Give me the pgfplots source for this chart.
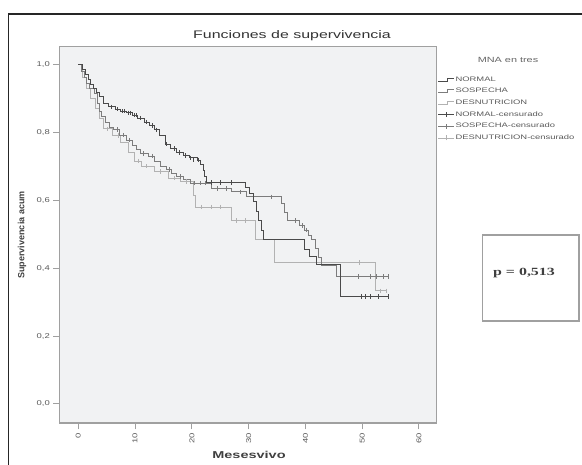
\documentclass[border=0pt]{standalone}
\usepackage{pgfplots}
\pgfplotsset{compat=1.18}
\usepackage{fontspec}
\setmainfont{Liberation Sans}
\newfontfamily\wsans[FakeStretch=1.45]{Liberation Sans}
\newfontfamily\tsans[FakeStretch=1.35]{Liberation Sans}
\newfontfamily\serifp[FakeStretch=1.45]{Liberation Serif}
\definecolor{cN}{HTML}{4A4A4A}
\definecolor{cS}{HTML}{7C7C7C}
\definecolor{cD}{HTML}{B2B2B2}
\definecolor{bgplot}{HTML}{F1F2F3}
\definecolor{axc}{HTML}{A0A0A0}
\begin{document}
\begin{tikzpicture}[x=1pt,y=1pt]
\useasboundingbox (0,0) rectangle (582,464);
\draw[line width=1.2pt, color=black!85] (8.3,-5) -- (8.3,450) -- (590,450);
\begin{axis}[
  at={(59.3pt,40.7pt)}, anchor=south west,
  scale only axis, width=377.2pt, height=376.6pt,
  xmin=-3.35, xmax=63.1, ymin=-0.057, ymax=1.052,
  axis background/.style={fill=bgplot},
  axis line style={axc, line width=1.6pt},
  xtick={0,10,20,30,40,50,60},
  ytick={0,0.2,0.4,0.6,0.8,1.0},
  yticklabels={{0,0},{0,2},{0,4},{0,6},{0,8},{1,0}},
  tick align=outside, tick pos=left, major tick length=6pt,
  tick style={axc, line width=1pt},
  ticklabel style={font=\tsans\fontsize{7}{8}\selectfont, text=black!65},
  xticklabel style={rotate=90, anchor=east},
  /pgf/number format/assume math mode=true,
  clip=false,
  legend style={at={(1.003,0.925)}, anchor=north west, draw=none, fill=none,
    font=\wsans\fontsize{6.5}{7}\selectfont, text=black!65, inner xsep=0pt, inner ysep=0pt,
    row sep=3.2pt, nodes={inner sep=1pt, text height=5pt, text depth=1.5pt}},
  legend cell align=left,
]
\addlegendimage{legend image code/.code={\draw[cN, line width=0.7pt] (0pt,-1.5pt) -- (9pt,-1.5pt) -- (9pt,1.5pt) -- (16pt,1.5pt);}}
\addlegendentry{NORMAL}
\addlegendimage{legend image code/.code={\draw[cS, line width=0.7pt] (0pt,-1.5pt) -- (9pt,-1.5pt) -- (9pt,1.5pt) -- (16pt,1.5pt);}}
\addlegendentry{SOSPECHA}
\addlegendimage{legend image code/.code={\draw[cD, line width=0.7pt] (0pt,-1.5pt) -- (9pt,-1.5pt) -- (9pt,1.5pt) -- (16pt,1.5pt);}}
\addlegendentry{DESNUTRICION}
\addlegendimage{legend image code/.code={\draw[cN, line width=0.7pt] (0pt,0pt) -- (16pt,0pt); \draw[cN, line width=0.7pt] (8pt,-2.5pt) -- (8pt,2.5pt);}}
\addlegendentry{NORMAL-censurado}
\addlegendimage{legend image code/.code={\draw[cS, line width=0.7pt] (0pt,0pt) -- (16pt,0pt); \draw[cS, line width=0.7pt] (8pt,-2.5pt) -- (8pt,2.5pt);}}
\addlegendentry{SOSPECHA-censurado}
\addlegendimage{legend image code/.code={\draw[cD, line width=0.7pt] (0pt,0pt) -- (16pt,0pt); \draw[cD, line width=0.7pt] (8pt,-2.5pt) -- (8pt,2.5pt);}}
\addlegendentry{DESNUTRICION-censurado}

% DESNUTRICION
\addplot[const plot, cD, line width=0.9pt, forget plot] table {
0 1.000
0.8 0.960
1.5 0.930
2.2 0.900
3.0 0.870
3.7 0.840
4.4 0.810
6.0 0.790
7.5 0.770
8.9 0.740
9.9 0.715
11.2 0.700
13.5 0.685
15.8 0.665
18.0 0.655
20.3 0.615
20.6 0.580
26.9 0.540
31.2 0.483
34.6 0.416
52.3 0.333
54.3 0.333
};
\addplot[only marks, mark=|, mark size=2.2pt, cD, mark options={line width=0.8pt}, forget plot] table {
5.2 0.810
7 0.790
10.5 0.715
12 0.700
14.5 0.685
17 0.665
19 0.655
21.7 0.580
23.5 0.580
25 0.580
27.8 0.540
29.5 0.540
49.5 0.416
53.2 0.333
54.3 0.333
};
% SOSPECHA
\addplot[const plot, cS, line width=0.9pt, forget plot] table {
0 1.000
0.5 0.980
1.0 0.962
1.5 0.945
2.0 0.930
2.9 0.915
3.3 0.885
3.7 0.860
4.1 0.848
4.7 0.830
5.5 0.815
6.2 0.808
7.3 0.792
8.5 0.777
9.5 0.762
10.2 0.750
10.9 0.738
12.4 0.730
13.5 0.715
14.4 0.700
15.5 0.690
16.4 0.680
17.3 0.670
18.5 0.660
19.7 0.650
23.5 0.634
27.0 0.625
29.7 0.610
35.8 0.590
36.3 0.565
36.8 0.540
39.0 0.525
39.8 0.512
40.5 0.497
41.1 0.483
41.7 0.458
42.3 0.432
42.8 0.409
45.5 0.375
54.6 0.375
};
\addplot[only marks, mark=|, mark size=2.2pt, cS, mark options={line width=0.8pt}, forget plot] table {
6.8 0.808
8 0.792
9 0.777
11.5 0.738
13 0.730
16 0.690
18 0.670
20.5 0.650
21.5 0.650
22.3 0.650
24.5 0.634
26 0.634
28.5 0.625
34 0.610
38.2 0.540
39.4 0.525
40.2 0.512
49.3 0.375
51.4 0.375
52.5 0.375
53.7 0.375
54.6 0.375
};
% NORMAL
\addplot[const plot, cN, line width=0.9pt, forget plot] table {
0 1.000
0.7 0.985
1.2 0.970
1.7 0.955
2.2 0.942
2.7 0.930
3.2 0.918
3.7 0.905
4.4 0.885
5.3 0.875
6.5 0.868
7.5 0.862
8.5 0.857
9.5 0.850
10.5 0.842
11.7 0.830
12.6 0.820
13.5 0.807
14.3 0.790
15.3 0.765
16.2 0.752
17.3 0.740
18.5 0.732
19.5 0.725
20.9 0.718
21.5 0.705
22.0 0.689
22.3 0.670
22.6 0.652
29.5 0.638
30.2 0.620
30.8 0.595
31.3 0.568
31.8 0.540
32.2 0.510
32.6 0.483
39.8 0.455
40.8 0.434
42.0 0.410
46.1 0.316
54.6 0.316
};
\addplot[only marks, mark=|, mark size=2.2pt, cN, mark options={line width=0.8pt}, forget plot] table {
5.8 0.875
6.8 0.868
7.8 0.862
8.2 0.862
8.8 0.857
9.1 0.857
9.8 0.850
10.2 0.850
11 0.842
12 0.830
13 0.820
13.8 0.807
15.6 0.765
17 0.752
17.8 0.740
18.9 0.732
19.8 0.725
20.3 0.718
21.2 0.718
23.5 0.652
25 0.652
27 0.652
49.8 0.316
50.5 0.316
51.5 0.316
52.8 0.316
54.6 0.316
};
\end{axis}
\node[font=\wsans\fontsize{11}{12}\selectfont, text=black!80] at (292,428) {Funciones de supervivencia};
\node[rotate=90, font=\bfseries\fontsize{9}{10}\selectfont, text=black!75] at (22,229) {Supervivencia acum};
\node[font=\wsans\bfseries\fontsize{10}{11}\selectfont, text=black!75] at (249,9) {Mesesvivo};
\node[font=\wsans\fontsize{7.5}{8}\selectfont, text=black!60] at (508,404) {MNA en tres};
\draw[axc, line width=1.2pt] (482.7,143) rectangle (579,229);
\node[font=\serifp\bfseries\fontsize{11}{12}\selectfont, text=black!75] at (524,191) {p = 0,513};
\end{tikzpicture}
\end{document}
